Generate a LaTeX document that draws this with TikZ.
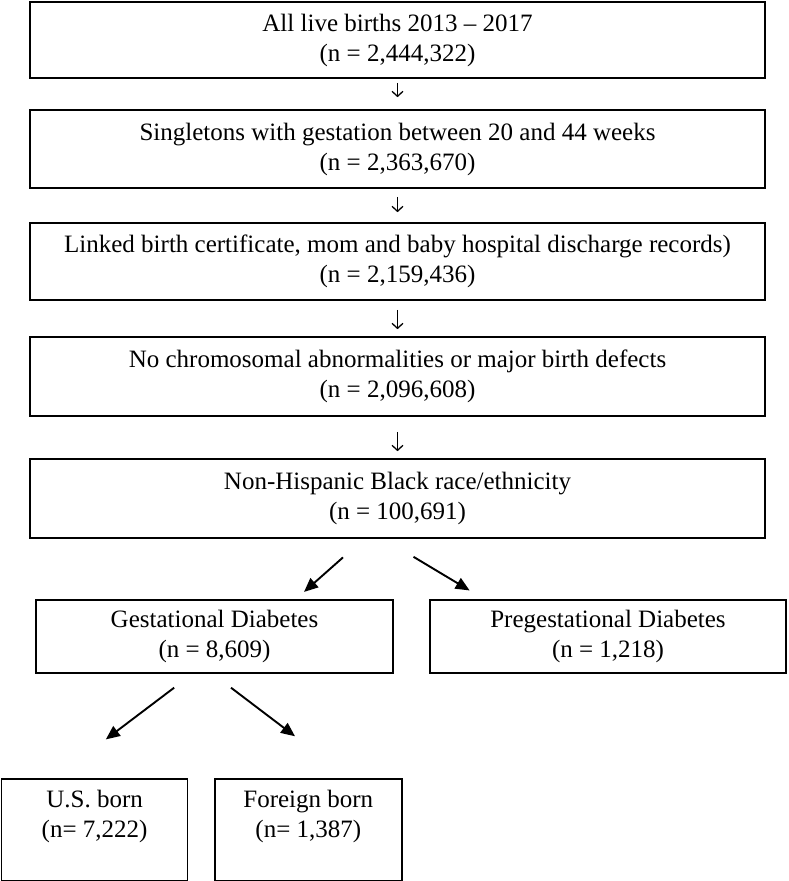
\documentclass[tikz,border=0pt]{standalone}
\usepackage{fontspec}
\setmainfont{Liberation Serif}
\usetikzlibrary{arrows.meta,calc}
\begin{document}
\begin{tikzpicture}[x=1pt,y=-1pt,
  box/.style={draw, line width=1.6pt, rectangle, align=center, inner sep=0pt,
    font=\fontsize{25}{30}\selectfont},
  varrow/.style={line width=1.3pt, -{Straight Barb[length=5pt,width=11pt,line width=1.3pt]}},
  darrow/.style={line width=1.9pt, -{Triangle[length=14pt,width=12pt]}}]
\useasboundingbox (0,0) rectangle (788,881);
\node[box, minimum width=735, minimum height=76] (b1) at (397.5,40) {All live births 2013 -- 2017\\(n = 2,444,322)};
\node[box, minimum width=735, minimum height=78] (b2) at (397.5,149) {Singletons with gestation between 20 and 44 weeks\\(n = 2,363,670)};
\node[box, minimum width=735, minimum height=77] (b3) at (397.5,261.5) {Linked birth certificate, mom and baby hospital discharge records)\\(n = 2,159,436)};
\node[box, minimum width=735, minimum height=79] (b4) at (397.5,376.5) {No chromosomal abnormalities or major birth defects\\(n = 2,096,608)};
\node[box, minimum width=735, minimum height=79] (b5) at (397.5,498.5) {Non-Hispanic Black race/ethnicity\\(n = 100,691)};
\node[box, minimum width=357, minimum height=73] (gd) at (214.5,636.5) {Gestational Diabetes\\(n = 8,609)};
\node[box, minimum width=356, minimum height=73] (pd) at (608,636.5) {Pregestational Diabetes\\(n = 1,218)};
\node[box, minimum width=186, minimum height=102, anchor=north west, text depth=31pt] (us) at (0.8,778) {U.S. born\\(n= 7,222)};
\node[box, minimum width=187, minimum height=102, anchor=north west, text depth=31pt] (fb) at (214,778) {Foreign born\\(n= 1,387)};
\draw[varrow, shorten <=4pt, shorten >=12pt] (b1) -- (b2);
\draw[varrow, shorten <=8pt, shorten >=10pt] (b2) -- (b3);
\draw[varrow, shorten <=9pt, shorten >=7pt] (b3) -- (b4);
\draw[varrow, shorten <=15pt, shorten >=7pt] (b4) -- (b5);
\coordinate (p1) at ([xshift=-33.5pt]b5.south);
\coordinate (q1) at ([xshift=-98pt]gd.north east);
\coordinate (p2) at ([xshift=-14pt]b5.south);
\coordinate (q2) at ([xshift=55pt]pd.north west);
\draw[darrow, shorten <=28pt, shorten >=11pt] (p1) -- (q1);
\draw[darrow, shorten <=35pt, shorten >=17pt] (p2) -- (q2);
\coordinate (p3) at ([xshift=-22pt]gd.south);
\coordinate (q3) at ([xshift=54pt]us.north west);
\coordinate (p4) at ([xshift=-1.8pt]gd.south);
\coordinate (q4) at ([xshift=136pt]fb.north west);
\draw[darrow, shorten <=23pt, shorten >=64pt] (p3) -- (q3);
\draw[darrow, shorten <=23pt, shorten >=69pt] (p4) -- (q4);
\end{tikzpicture}
\end{document}
